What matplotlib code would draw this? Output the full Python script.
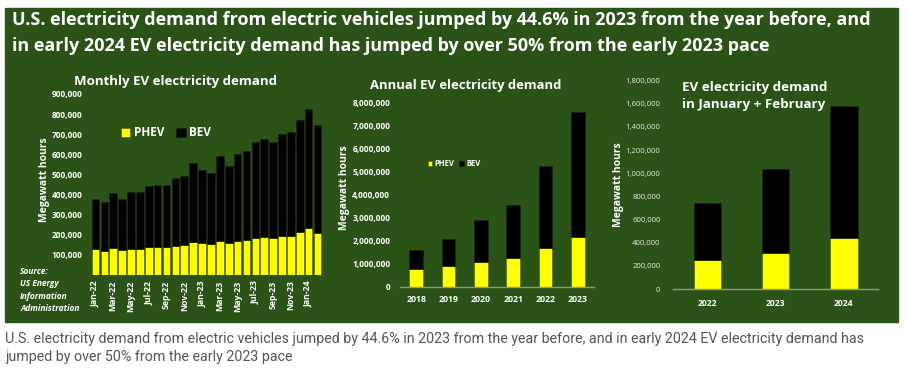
"""EV electricity demand: monthly, annual and Jan+Feb stacked bars."""

import matplotlib.pyplot as plt
from matplotlib.patches import Rectangle

# ---- data (megawatt hours) ----
months = ["Jan-22", "Feb-22", "Mar-22", "Apr-22", "May-22", "Jun-22",
          "Jul-22", "Aug-22", "Sep-22", "Oct-22", "Nov-22", "Dec-22",
          "Jan-23", "Feb-23", "Mar-23", "Apr-23", "May-23", "Jun-23",
          "Jul-23", "Aug-23", "Sep-23", "Oct-23", "Nov-23", "Dec-23",
          "Jan-24", "Feb-24"]
monthly_total = [377000, 365000, 407000, 380000, 412000, 415000,
                 445000, 450000, 450000, 480000, 493000, 556000,
                 523000, 508000, 591000, 543000, 603000, 618000,
                 659000, 676000, 661000, 701000, 711000, 772000,
                 827000, 744000]
monthly_phev = [128000, 121000, 136000, 125000, 131000, 131000,
                140000, 140000, 140000, 146000, 150000, 166000,
                161000, 153000, 171000, 160000, 171000, 174000,
                184000, 189000, 184000, 196000, 196000, 216000,
                233000, 208000]

years = ["2018", "2019", "2020", "2021", "2022", "2023"]
annual_total = [1590000, 2070000, 2920000, 3570000, 5240000, 7580000]
annual_phev = [780000, 900000, 1100000, 1260000, 1690000, 2170000]

jf_years = ["2022", "2023", "2024"]
jf_total = [740000, 1035000, 1578000]
jf_phev = [248000, 310000, 443000]

title = ("U.S. electricity demand from electric vehicles jumped by 44.6% in 2023 "
         "from the year before, and\nin early 2024 EV electricity demand has "
         "jumped by over 50% from the early 2023 pace")
caption = ("U.S. electricity demand from electric vehicles jumped by 44.6% in 2023 "
           "from the year before, and in early 2024 EV electricity demand has\n"
           "jumped by over 50% from the early 2023 pace")

GREEN = "#2b5318"
YELLOW = "#ffff00"
BLACK = "#000000"

W, H = 907, 375
plt.rcParams["font.family"] = ["Open Sans", "DejaVu Sans"]
fig = plt.figure(figsize=(W / 100, H / 100), dpi=100)


def fx(px):
    return px / W


def fy(py):
    return 1 - py / H


def axes_px(x0, x1, y_top, y_bot):
    return fig.add_axes([fx(x0), fy(y_bot), fx(x1) - fx(x0), fy(y_top) - fy(y_bot)])


fig.patches.append(Rectangle((fx(5), fy(322)), fx(898) - fx(5), fy(8) - fy(322),
                             transform=fig.transFigure, color=GREEN, zorder=-10))
fig.text(fx(12), fy(33), title, color="white", fontsize=13, fontweight="bold",
         va="center", ha="left", linespacing=1.55)
fig.text(fx(5), fy(348), caption, color="#555555", fontsize=10.25, va="center",
         ha="left", family=["Roboto", "DejaVu Sans"], linespacing=1.45)


def style(ax, baseline=True):
    ax.set_facecolor("none")
    for side in ["top", "right", "left"]:
        ax.spines[side].set_visible(False)
    if baseline:
        ax.spines["bottom"].set_color("#8c9c86")
        ax.spines["bottom"].set_linewidth(1)
    else:
        ax.spines["bottom"].set_visible(False)
    ax.tick_params(length=0, colors="white")


def stack(ax, labels, total, phev, width):
    pos = list(range(len(labels)))
    bev = [t - p for t, p in zip(total, phev)]
    b1 = ax.bar(pos, phev, width, color=YELLOW, edgecolor="#4a5a12", linewidth=0.4)
    b2 = ax.bar(pos, bev, width, bottom=phev, color=BLACK, edgecolor="#1a2a0a",
                linewidth=0.4)
    ax.set_xlim(-0.5, len(labels) - 0.5)
    return b1, b2


# ---- monthly ----
ax1 = axes_px(91, 322, 94, 275)
style(ax1, baseline=False)
p1, b1 = stack(ax1, months, monthly_total, monthly_phev, 0.86)
ax1.set_ylim(0, 900000)
ax1.set_yticks(range(100000, 900001, 100000))
ax1.set_yticklabels([f"{v:,}" for v in range(100000, 900001, 100000)],
                    fontsize=6, fontweight="bold")
ax1.set_xticks(range(0, len(months), 2))
ax1.set_xticklabels(months[::2], rotation=90, fontsize=6.3, fontweight="bold")
ax1.tick_params(axis="y", pad=6)
ax1.tick_params(axis="x", pad=4)
fig.text(fx(176), fy(82), "Monthly EV electricity demand", color="white",
         fontsize=9.5, fontweight="bold", ha="center", va="center")
fig.text(fx(44), fy(180), "Megawatt hours", color="white", fontsize=7.5,
         fontweight="bold", rotation=90, ha="center", va="center")
leg = ax1.legend([p1, b1], ["PHEV", "BEV"], ncol=2, frameon=False,
                 loc="center", bbox_to_anchor=(fx(166), fy(133)),
                 bbox_transform=fig.transFigure, handlelength=0.8,
                 handleheight=0.8, handletextpad=0.3, columnspacing=1.0,
                 prop={"size": 8.5, "weight": "bold"})
for t in leg.get_texts():
    t.set_color("white")
fig.text(fx(20), fy(290), "Source:\nUS Energy\nInformation\nAdministration",
         color="white", fontsize=6, fontweight="bold", style="italic",
         ha="left", va="center", linespacing=1.45)

# ---- annual ----
ax2 = axes_px(400, 594, 102.3, 287)
style(ax2)
p2, b2 = stack(ax2, years, annual_total, annual_phev, 0.42)
ax2.set_ylim(0, 8000000)
ax2.set_yticks(range(0, 8000001, 1000000))
ax2.set_yticklabels([f"{v:,}" for v in range(0, 8000001, 1000000)],
                    fontsize=6, fontweight="bold")
ax2.set_xticks(range(len(years)))
ax2.set_xticklabels(years, fontsize=6.3, fontweight="bold")
ax2.tick_params(axis="y", pad=7)
ax2.tick_params(axis="x", pad=6)
fig.text(fx(466), fy(86), "Annual EV electricity demand", color="white",
         fontsize=9.4, fontweight="bold", ha="center", va="center")
fig.text(fx(345), fy(188), "Megawatt hours", color="white", fontsize=7.5,
         fontweight="bold", rotation=90, ha="center", va="center")
leg2 = ax2.legend([p2, b2], ["PHEV", "BEV"], ncol=2, frameon=False,
                  loc="center", bbox_to_anchor=(fx(454), fy(164)),
                  bbox_transform=fig.transFigure, handlelength=0.6,
                  handleheight=0.6, handletextpad=0.3, columnspacing=0.6,
                  prop={"size": 5.5, "weight": "bold"})
for t in leg2.get_texts():
    t.set_color("white")

# ---- January + February ----
ax3 = axes_px(673, 878, 80.7, 289)
style(ax3)
stack(ax3, jf_years, jf_total, jf_phev, 0.4)
ax3.set_ylim(0, 1800000)
ax3.set_yticks(range(0, 1800001, 200000))
ax3.set_yticklabels([f"{v:,}" for v in range(0, 1800001, 200000)],
                    fontsize=5.6, color="#e4eadf")
ax3.set_xticks(range(len(jf_years)))
ax3.set_xticklabels(jf_years, fontsize=6.2, fontweight="bold")
ax3.tick_params(axis="y", pad=9)
ax3.tick_params(axis="x", pad=7)
fig.text(fx(682), fy(96), "EV electricity demand\nin January + February",
         color="white", fontsize=9.6, fontweight="bold", ha="left", va="center",
         linespacing=1.45)
fig.text(fx(619), fy(185), "Megawatt hours", color="white", fontsize=7.5,
         fontweight="bold", rotation=90, ha="center", va="center")

fig.savefig("out.png", dpi=100)
